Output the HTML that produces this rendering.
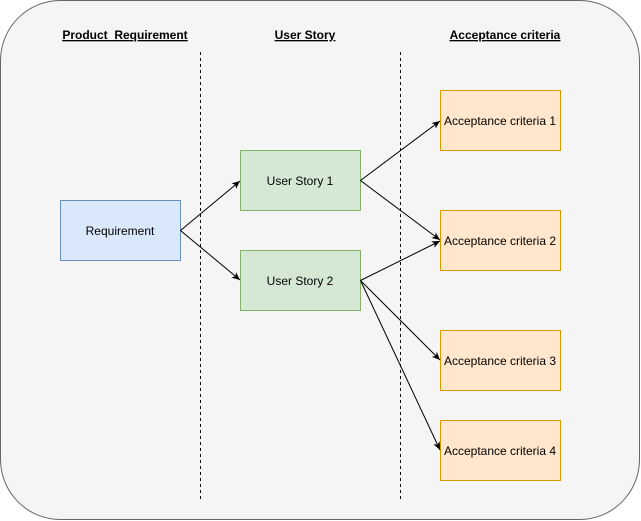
<!DOCTYPE html>
<html><head><meta charset="utf-8"><style>
html,body{margin:0;padding:0;background:#fff;}
svg{display:block;}
text{font-family:"Liberation Sans",Arial,sans-serif;font-size:12px;fill:#000;}
</style></head><body>
<svg width="641" height="521" viewBox="0 0 641 521">
<defs><marker id="a" markerWidth="10" markerHeight="10" refX="9" refY="5" orient="auto" markerUnits="userSpaceOnUse"><path d="M1,1.5 L9,5 L1,8.5 L3,5 Z" fill="#000"/></marker></defs>
<rect x="0.5" y="0.5" width="639" height="519" rx="60" fill="#f5f5f5" stroke="#666"/>
<g font-weight="bold" text-anchor="middle" style="text-decoration:underline">
<text x="125" y="39" font-weight="bold" text-decoration="underline">Product_Requirement</text>
<text x="305" y="39" font-weight="bold" text-decoration="underline">User Story</text>
<text x="505" y="39" font-weight="bold" text-decoration="underline">Acceptance criteria</text>
</g>
<line x1="200.5" y1="52" x2="200.5" y2="500" stroke="#000" stroke-dasharray="3,3"/>
<line x1="400.5" y1="52" x2="400.5" y2="500" stroke="#000" stroke-dasharray="3,3"/>
<rect x="60.5" y="200.5" width="120" height="60" fill="#dae8fc" stroke="#6c8ebf"/>
<rect x="240.5" y="150.5" width="120" height="60" fill="#d5e8d4" stroke="#82b366"/>
<rect x="240.5" y="250.5" width="120" height="60" fill="#d5e8d4" stroke="#82b366"/>
<rect x="440.5" y="90.5" width="120" height="60" fill="#ffe6cc" stroke="#d79b00"/>
<rect x="440.5" y="210.5" width="120" height="60" fill="#ffe6cc" stroke="#d79b00"/>
<rect x="440.5" y="330.5" width="120" height="60" fill="#ffe6cc" stroke="#d79b00"/>
<rect x="440.5" y="420.5" width="120" height="60" fill="#ffe6cc" stroke="#d79b00"/>
<g text-anchor="middle">
<text x="120" y="235">Requirement</text>
<text x="300" y="185">User Story 1</text>
<text x="300" y="285">User Story 2</text>
<text x="500" y="125">Acceptance criteria 1</text>
<text x="500" y="245">Acceptance criteria 2</text>
<text x="500" y="365">Acceptance criteria 3</text>
<text x="500" y="455">Acceptance criteria 4</text>
</g>
<g stroke="#000" fill="none" marker-end="url(#a)">
<line x1="180.5" y1="230.5" x2="240" y2="181"/>
<line x1="180.5" y1="230.5" x2="240" y2="280"/>
<line x1="360.5" y1="180.5" x2="440" y2="121"/>
<line x1="360.5" y1="180.5" x2="440" y2="240"/>
<line x1="360.5" y1="280.5" x2="440" y2="241"/>
<line x1="360.5" y1="280.5" x2="440" y2="360"/>
<line x1="360.5" y1="280.5" x2="440" y2="450"/>
</g>
</svg>
</body></html>
